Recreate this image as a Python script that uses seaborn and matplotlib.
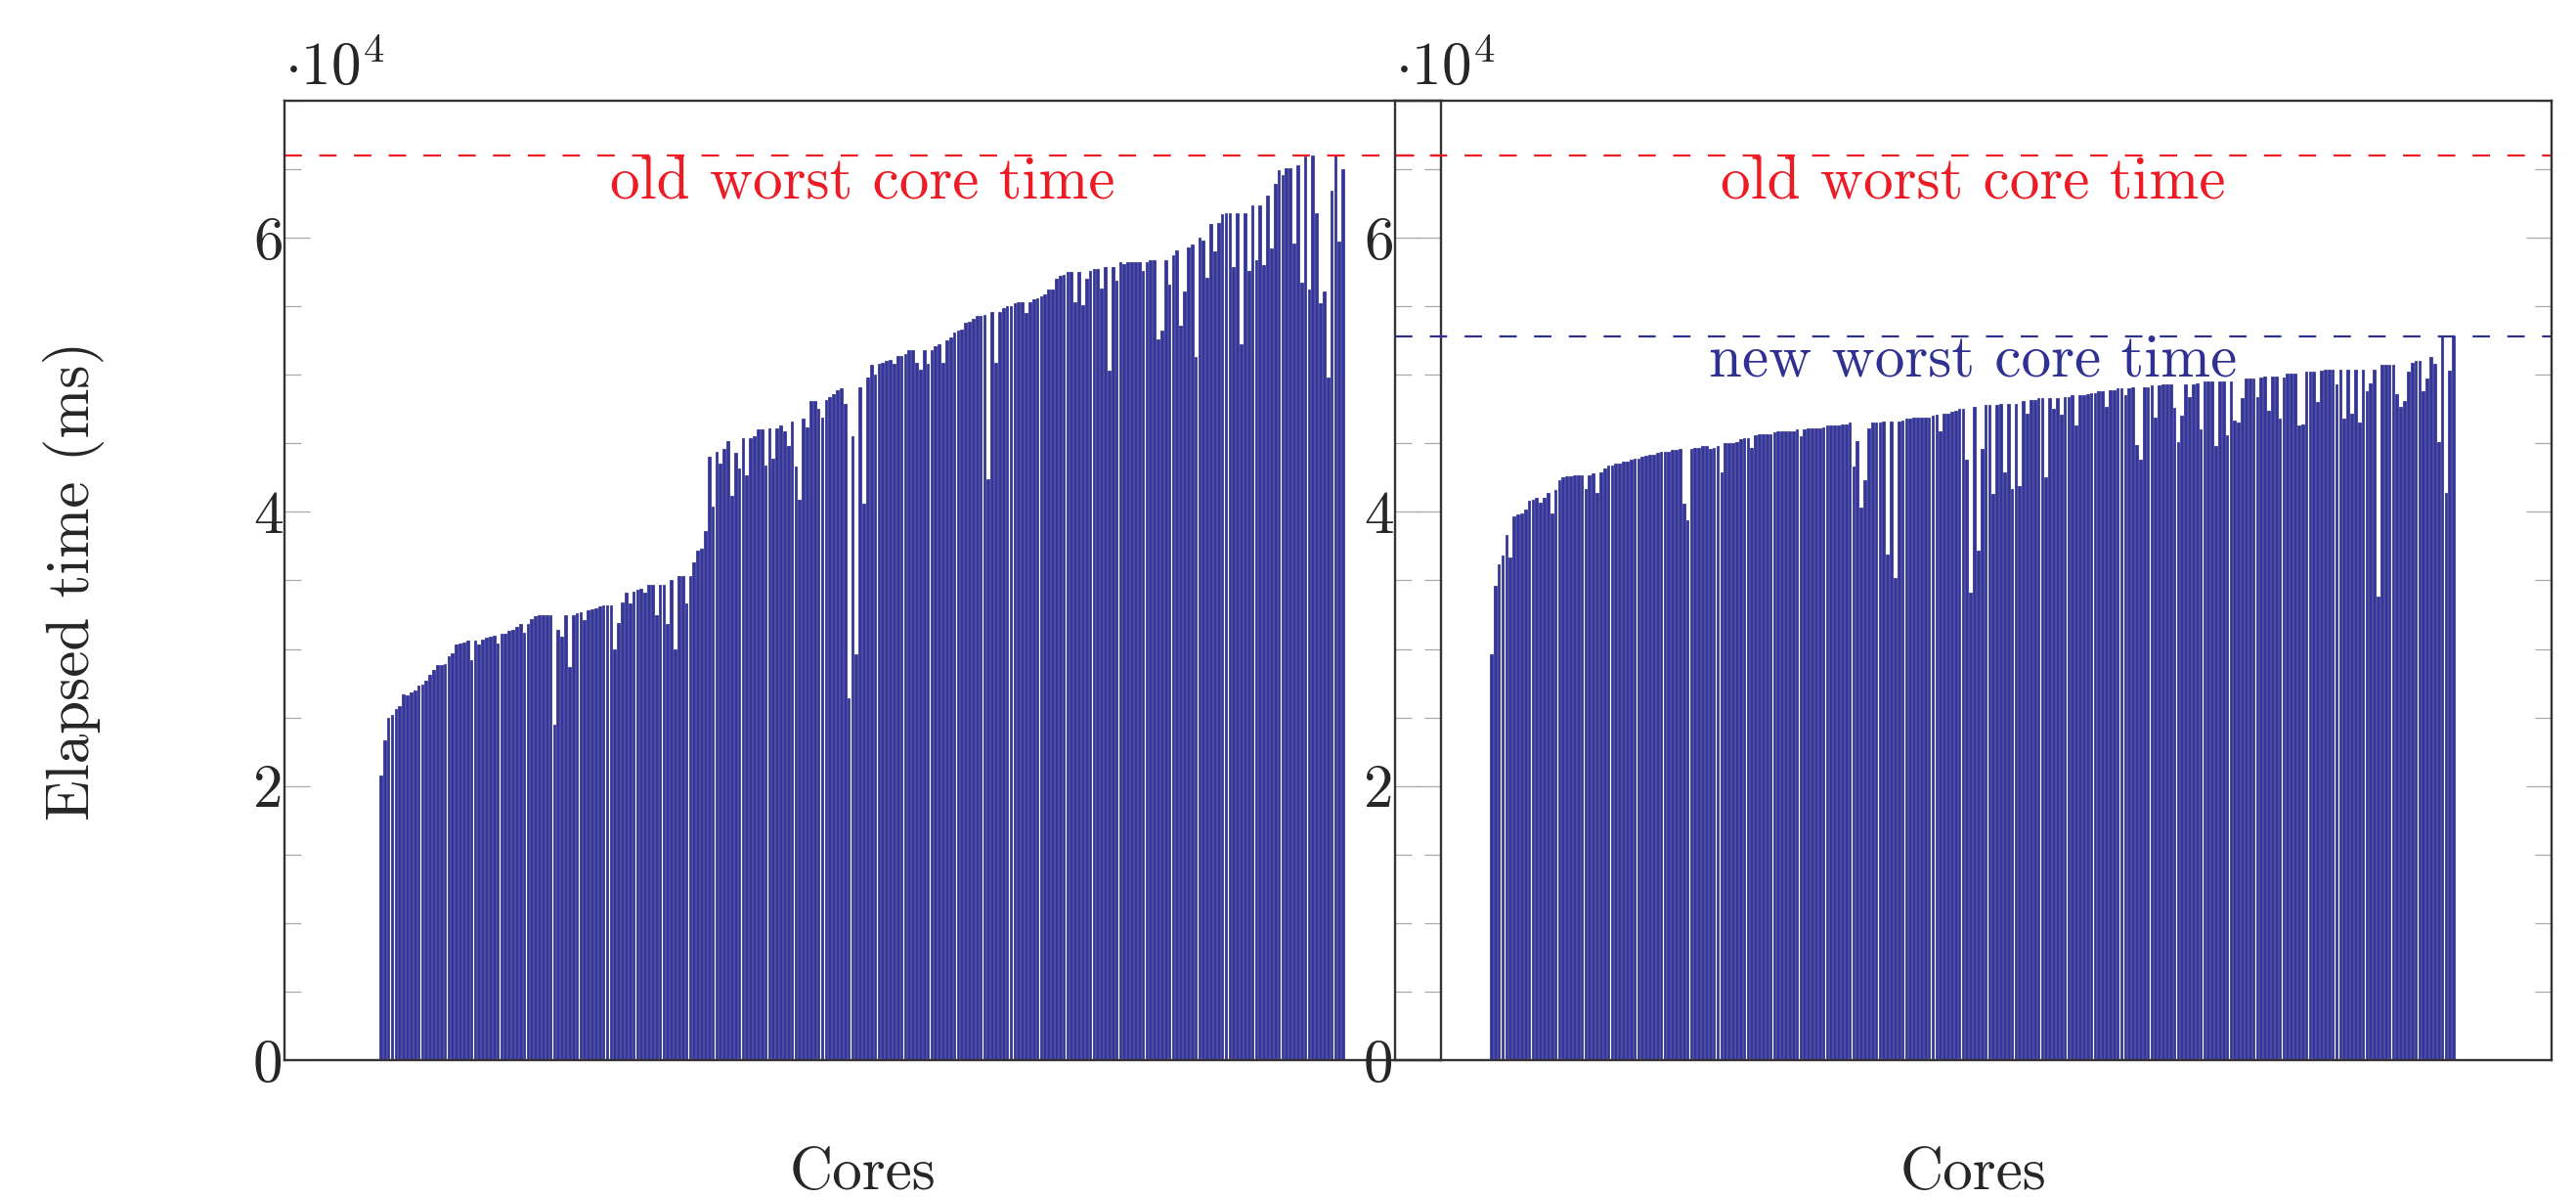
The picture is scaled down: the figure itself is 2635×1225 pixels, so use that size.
import numpy as np
import pandas as pd
import seaborn as sns
import matplotlib.pyplot as plt
from matplotlib.ticker import MultipleLocator, FuncFormatter

# elapsed time per core, in units of 1e4 ms (cores sorted by index)
old_times = [
    2.08, 2.33, 2.50, 2.52, 2.56, 2.58, 2.67, 2.66, 2.68, 2.70,
    2.73, 2.74, 2.77, 2.81, 2.85, 2.88, 2.88, 2.89, 2.95, 2.97,
    3.03, 3.04, 3.05, 3.06, 2.92, 3.06, 3.03, 3.07, 3.08, 3.09,
    3.10, 3.04, 3.11, 3.11, 3.13, 3.14, 3.16, 3.18, 3.12, 3.18,
    3.22, 3.24, 3.25, 3.25, 3.25, 3.25, 2.45, 3.14, 3.09, 3.25,
    2.87, 3.25, 3.26, 3.27, 3.21, 3.28, 3.29, 3.30, 3.31, 3.32,
    3.32, 3.32, 3.00, 3.19, 3.34, 3.41, 3.33, 3.42, 3.43, 3.44,
    3.41, 3.47, 3.47, 3.25, 3.47, 3.47, 3.18, 3.50, 3.00, 3.53,
    3.53, 3.33, 3.53, 3.63, 3.72, 3.73, 3.86, 4.40, 4.04, 4.44,
    4.35, 4.46, 4.52, 4.12,
    4.43, 4.32, 4.54, 4.27, 4.54, 4.55, 4.60, 4.60, 4.34, 4.61,
    4.39, 4.61, 4.63, 4.59, 4.48, 4.66, 4.33, 4.09, 4.68, 4.62,
    4.81, 4.81, 4.75, 4.69, 4.82, 4.84, 4.86, 4.89, 4.90, 4.79,
    2.64, 4.55, 2.96, 4.91, 4.06, 4.98, 5.07, 5.00, 5.08, 5.09,
    5.10, 5.11, 5.08, 5.14, 5.14, 5.15, 5.18, 5.18, 5.09, 5.04,
    5.18, 5.08, 5.18, 5.21, 5.22, 5.09, 5.25, 5.27, 5.31, 5.32,
    5.33, 5.38, 5.39, 5.41, 5.43, 5.43, 5.44, 4.24, 5.46, 5.09,
    5.46, 5.49, 5.50, 5.50, 5.52, 5.53, 5.53, 5.45, 5.53, 5.55,
    5.56, 5.57, 5.59, 5.62, 5.62, 5.70, 5.72, 5.73, 5.75, 5.75,
    5.53, 5.75, 5.51, 5.70, 5.76, 5.77, 5.77, 5.63, 5.79, 5.03,
    5.79, 5.69, 5.82,
    5.81, 5.82, 5.82, 5.82, 5.82, 5.76, 5.82, 5.84, 5.84, 5.26,
    5.32, 5.84, 5.66, 5.87, 5.91, 5.36, 5.61, 5.93, 5.95, 5.13,
    6.00, 5.98, 5.71, 6.10, 5.90, 6.11, 6.17, 6.18, 6.18, 5.79,
    6.18, 5.22, 6.18, 5.76, 6.24, 5.84, 6.24, 5.80, 6.31, 5.92,
    6.39, 6.49, 6.46, 6.51, 6.51, 5.96, 6.53, 5.67, 6.59, 5.62,
    6.60, 6.18, 5.52, 5.61, 4.98, 6.34, 6.60, 5.97, 6.50,
]

new_times = [
    2.96, 3.46, 3.62, 3.68, 3.83, 3.67, 3.97, 3.98, 3.99, 4.02,
    4.08, 4.09, 4.10, 4.07, 4.10, 4.14, 3.99, 4.16, 4.23, 4.25,
    4.26, 4.26, 4.27, 4.27, 4.27, 4.17, 4.27, 4.28, 4.14, 4.29,
    4.32, 4.34, 4.34, 4.35, 4.35, 4.37, 4.37, 4.38, 4.39, 4.39,
    4.40, 4.41, 4.42, 4.42, 4.43, 4.44, 4.44, 4.44, 4.45, 4.45,
    4.46, 4.06, 3.94, 4.46, 4.47, 4.47, 4.48, 4.48, 4.46, 4.47,
    4.48, 4.29, 4.50, 4.50, 4.50, 4.51, 4.53, 4.54, 4.54, 4.47,
    4.56, 4.57, 4.57, 4.57, 4.57, 4.58, 4.59, 4.59, 4.59, 4.59,
    4.59, 4.60, 4.55, 4.60, 4.61, 4.61, 4.61, 4.61, 4.62, 4.63,
    4.63, 4.63, 4.63, 4.64, 4.64, 4.65, 4.33, 4.52,
    4.03, 4.23, 4.61, 4.65, 4.65, 4.65, 4.66, 3.69, 4.66, 3.52,
    4.66, 4.67, 4.68, 4.68, 4.69, 4.69, 4.69, 4.69, 4.69, 4.70,
    4.71, 4.59, 4.72, 4.72, 4.73, 4.74, 4.75, 4.75, 4.38, 3.41,
    4.77, 3.72, 4.46, 4.78, 4.78, 4.13, 4.78, 4.79, 4.29, 4.79,
    4.17, 4.79, 4.19, 4.81, 4.72, 4.82, 4.82, 4.83, 4.83, 4.25,
    4.83, 4.75, 4.83, 4.71, 4.84, 4.84, 4.85, 4.63, 4.85, 4.85,
    4.86, 4.87, 4.87, 4.88, 4.88, 4.77, 4.89, 4.89, 4.90, 4.90,
    4.85, 4.90, 4.91, 4.49, 4.38, 4.91, 4.91,
    4.92, 4.69, 4.92, 4.93, 4.93, 4.93, 4.76, 4.51, 4.70, 4.93,
    4.84, 4.93, 4.94, 4.60, 4.95, 4.95, 4.95, 4.48, 4.95, 4.95,
    4.56, 4.95, 4.67, 4.65, 4.83, 4.97, 4.97, 4.97, 4.84, 4.98,
    4.99, 4.74, 4.99, 4.99, 4.68, 4.98, 5.01, 5.01, 5.01, 4.63,
    4.64, 5.02, 5.02, 5.02, 4.80, 5.03, 5.04, 5.04, 5.04, 4.93,
    5.04, 4.68, 5.04, 4.72, 5.04, 4.65, 5.04, 4.88, 4.94, 5.04,
    3.38, 5.07, 5.07, 5.07, 5.07, 4.86, 4.77, 4.81, 5.02, 5.09,
    5.10, 5.10, 4.88, 4.97, 5.13, 5.08, 4.51, 5.28, 4.14, 5.03,
    5.28,
]

old_worst = 66000
new_worst = 52800

bar_fill = '#34349a'
bar_edge = '#2a2d8c'
red = '#ed1c24'
blue = '#2e3192'

sns.set_style('white')
plt.rcParams['font.family'] = ['cmr10', 'DejaVu Serif']
plt.rcParams['mathtext.fontset'] = 'cm'
plt.rcParams['axes.formatter.use_mathtext'] = True
fs = 44

fig = plt.figure(figsize=(26.35, 12.25), dpi=100)
ax1 = fig.add_axes([291 / 2635, 141 / 1225, 1183 / 2635, 981 / 1225])
ax2 = fig.add_axes([1427 / 2635, 141 / 1225, 1183 / 2635, 981 / 1225])
ax2.set_facecolor('none')

for ax, times in [(ax1, old_times), (ax2, new_times)]:
    df = pd.DataFrame({'core': np.arange(len(times)), 'time': np.array(times) * 1e4})
    sns.barplot(data=df, x='core', y='time', ax=ax, color=bar_fill, saturation=1,
                width=0.7, edgecolor=bar_edge, linewidth=0.5, errorbar=None)
    ax.axhline(old_worst, color=red, lw=1.6, linestyle=(0, (8, 8)))
    ax.annotate('old worst core time', xy=(0.5, old_worst),
                xycoords=('axes fraction', 'data'), xytext=(0, -31),
                textcoords='offset points', ha='center', va='baseline',
                color=red, fontsize=fs)

    ax.set_xlim(-25.5, 281)
    ax.set_ylim(0, 70000)
    ax.set_xticks([])
    ax.yaxis.set_major_locator(MultipleLocator(20000))
    ax.yaxis.set_minor_locator(MultipleLocator(5000))
    ax.yaxis.set_major_formatter(FuncFormatter(lambda v, p: f'{v / 1e4:g}'))
    ax.tick_params(axis='y', which='both', direction='in', left=True, right=True,
                   color='#aaaaaa', width=0.9, labelsize=fs, pad=1)
    ax.tick_params(axis='y', which='major', length=18.7)
    ax.tick_params(axis='y', which='minor', length=12.2)
    for s in ax.spines.values():
        s.set_visible(True)
        s.set_color('#333333')
        s.set_linewidth(1.7)
    ax.set_xlabel('Cores', fontsize=fs, labelpad=64)
    ax.set_ylabel('')
    ax.text(0, 1 + 16 / 981, r'$\cdot 10^{4}$', transform=ax.transAxes,
            ha='left', va='baseline', fontsize=fs)

ax2.axhline(new_worst, color=blue, lw=1.6, linestyle=(0, (8, 8)))
ax2.annotate('new worst core time', xy=(0.5, new_worst),
             xycoords=('axes fraction', 'data'), xytext=(0, -29),
             textcoords='offset points', ha='center', va='baseline',
             color=blue, fontsize=fs)

ax1.set_ylabel('Elapsed time (ms)', fontsize=fs)
ax1.yaxis.set_label_coords(-0.1555, 0.5)

fig.savefig('out.png', dpi=100)
